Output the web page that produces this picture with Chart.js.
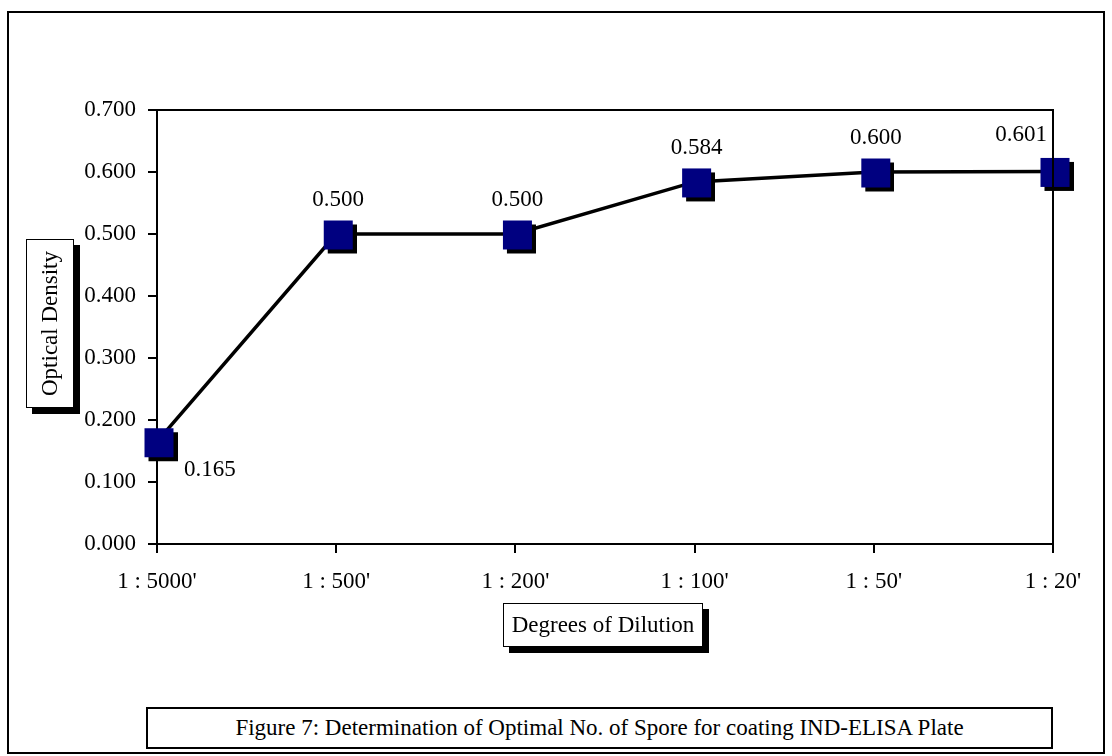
<!DOCTYPE html>
<html>
<head>
<meta charset="utf-8">
<script src="https://cdn.jsdelivr.net/npm/chart.js@4/dist/chart.umd.min.js"></script>
<style>
  body { margin: 0; background: #fff; }
  #wrap { position: relative; width: 1112px; height: 756px; overflow: hidden; font-family: "Liberation Serif", "Times New Roman", serif; color: #000; }
  #odChart { position: absolute; left: 0; top: 0; }
  .frame { position: absolute; left: 7px; top: 11px; width: 1098px; height: 743px; border: 2px solid #000; box-sizing: border-box; }
  .tbox { position: absolute; background: #fff; border: 1px solid #000; box-sizing: border-box; box-shadow: 6px 6px 0 #000; display: flex; align-items: center; justify-content: center; font-size: 23px; white-space: nowrap; }
  #yTitle { left: 26px; top: 239px; width: 48px; height: 169px; }
  #yTitle span { writing-mode: vertical-rl; transform: rotate(180deg); }
  #xTitle { left: 503px; top: 603px; width: 200px; height: 44px; }
  #caption { position: absolute; left: 146px; top: 707px; width: 907px; height: 42px; border: 2px solid #000; box-sizing: border-box; background: #fff; display: flex; align-items: center; justify-content: center; font-size: 23px; white-space: nowrap; }
</style>
</head>
<body>
<div id="wrap">
  <canvas id="odChart" width="1112" height="756"></canvas>
  <div class="frame"></div>
  <div class="tbox" id="yTitle"><span>Optical Density</span></div>
  <div class="tbox" id="xTitle">Degrees of Dilution</div>
  <div id="caption">Figure 7: Determination of Optimal No. of Spore for coating IND-ELISA Plate</div>
</div>
<script>
const dilutions = ["1 : 5000'", "1 : 500'", "1 : 200'", "1 : 100'", "1 : 50'", "1 : 20'"];
const opticalDensity = [0.165, 0.500, 0.500, 0.584, 0.600, 0.601];
const densityMin = 0;
const densityMax = 0.7;
const densityStep = 0.1;

const serif = '"Liberation Serif", "Times New Roman", serif';

// square navy marker with a hard black drop shadow
function makeMarker() {
    const c = document.createElement('canvas');
    c.width = 41; c.height = 41;
    const g = c.getContext('2d');
    g.fillStyle = '#000';
    g.fillRect(12, 11, 29, 29);
    g.fillStyle = '#000080';
    g.fillRect(8, 7, 29, 29);
    return c;
}

// top and right edges of the plot area
const plotBorder = {
    id: 'plotBorder',
    afterDraw(chart) {
        const { ctx, chartArea: a } = chart;
        ctx.save();
        ctx.strokeStyle = '#000';
        ctx.lineWidth = 2;
        ctx.beginPath();
        ctx.moveTo(a.left, a.top);
        ctx.lineTo(a.right, a.top);
        ctx.lineTo(a.right, a.bottom);
        ctx.stroke();
        ctx.restore();
    }
};

// value labels next to each point
const valueLabels = {
    id: 'valueLabels',
    afterDatasetsDraw(chart) {
        const { ctx } = chart;
        const pts = chart.getDatasetMeta(0).data;
        const last = pts.length - 1;
        ctx.save();
        ctx.font = '23px ' + serif;
        ctx.fillStyle = '#000';
        ctx.textBaseline = 'middle';
        pts.forEach((p, i) => {
            const txt = opticalDensity[i].toFixed(3);
            if (i === 0) {
                ctx.textAlign = 'left';
                ctx.fillText(txt, p.x + 27, p.y + 28);
            } else if (i === last) {
                ctx.textAlign = 'center';
                ctx.fillText(txt, p.x - 32, p.y - 36);
            } else {
                ctx.textAlign = 'center';
                ctx.fillText(txt, p.x + 2, p.y - 34);
            }
        });
        ctx.restore();
    }
};

const ctx = document.getElementById('odChart').getContext('2d');
const odChart = new Chart(ctx, {
    type: 'line',
    data: {
        labels: dilutions,
        datasets: [{
            data: opticalDensity,
            borderColor: '#000',
            borderWidth: 3.5,
            tension: 0,
            pointStyle: makeMarker(),
            pointRadius: 18,
            clip: false
        }]
    },
    options: {
        responsive: false,
        animation: false,
        devicePixelRatio: 1,
        layout: { padding: { left: 0, top: 110, right: 59, bottom: 0 } },
        plugins: { legend: { display: false }, tooltip: { enabled: false } },
        scales: {
            x: {
                offset: false,
                afterFit: s => { s.height = 212; },
                border: { color: '#000', width: 2 },
                grid: { drawOnChartArea: false, color: '#000', lineWidth: 2, tickLength: 9 },
                ticks: { color: '#000', font: { family: serif, size: 23 }, padding: 15, maxRotation: 0, autoSkip: false }
            },
            y: {
                min: densityMin,
                max: densityMax,
                afterFit: s => { s.width = 157; },
                border: { color: '#000', width: 2 },
                grid: { drawOnChartArea: false, color: '#000', lineWidth: 2, tickLength: 9 },
                ticks: {
                    stepSize: densityStep,
                    color: '#000',
                    font: { family: serif, size: 23 },
                    padding: 12,
                    callback: v => Number(v).toFixed(3)
                }
            }
        }
    },
    plugins: [plotBorder, valueLabels]
});
</script>
</body>
</html>
